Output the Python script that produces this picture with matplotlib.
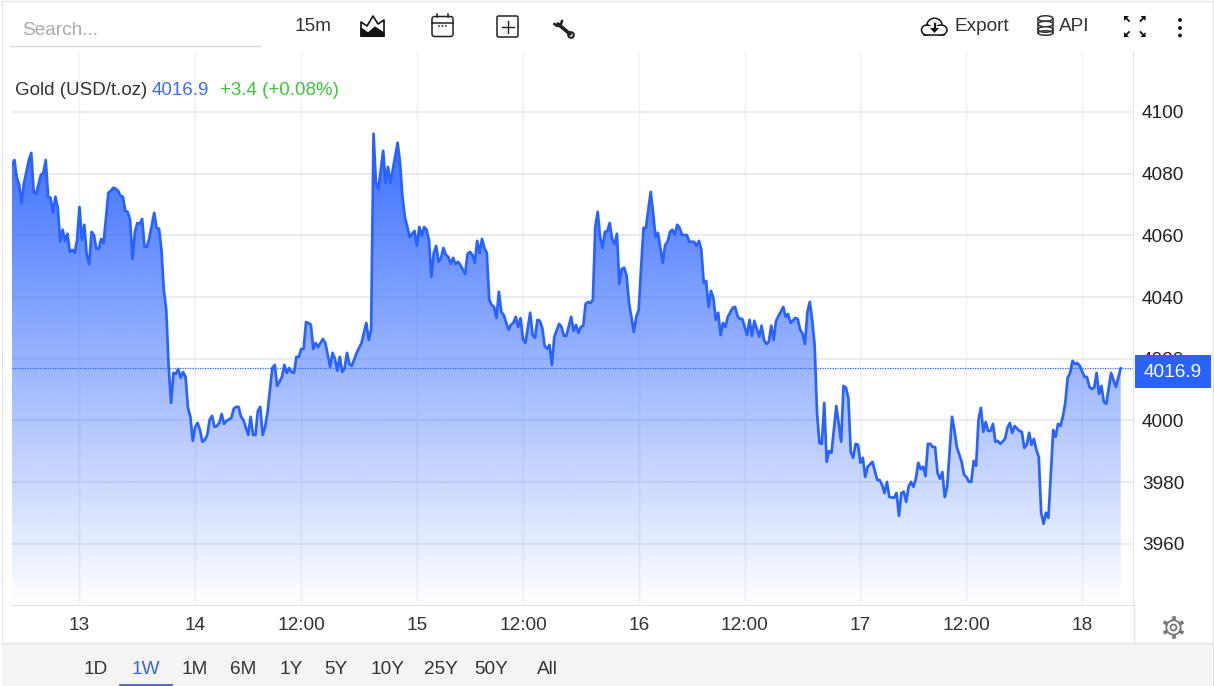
import numpy as np
import matplotlib
matplotlib.use("Agg")
import matplotlib.pyplot as plt
from matplotlib.patches import Rectangle, FancyBboxPatch, Circle, Polygon, Ellipse

plt.rcParams['font.family'] = ['Liberation Sans', 'DejaVu Sans']

# 15 minute bars counted from the left edge of the chart, and the gold price at them
bars = [0, 1, 2, 3, 4, 5, 7, 8, 9, 10, 12, 13, 14, 15, 16, 17, 18, 19, 20, 21, 22, 23, 24, 25, 26, 27, 28, 29, 30, 31,
        32, 33, 34, 35, 36, 37, 38, 40, 41, 42, 43, 44, 45, 46, 47, 48, 49, 50, 51, 52, 53, 54, 55, 56, 57, 59, 60, 61,
        62, 63, 64, 65, 66, 67, 68, 69, 70, 71, 72, 73, 74, 75, 76, 77, 78, 79, 80, 81, 82, 83, 84, 85, 86, 87, 88, 89,
        91, 92, 93, 94, 95, 96, 98, 99, 100, 101, 102, 103, 104, 105, 106, 108, 109, 110, 112, 113, 114, 115, 116, 117,
        118, 119, 120, 121, 122, 123, 124, 125, 126, 127, 129, 130, 132, 133, 134, 135, 136, 137, 138, 139, 140, 141,
        143, 145, 147, 148, 149, 150, 151, 152, 154, 155, 156, 157, 160, 161, 162, 163, 165, 167, 168, 169, 170, 171,
        172, 173, 174, 175, 176, 177, 178, 179, 180, 181, 182, 183, 184, 185, 186, 188, 189, 190, 191, 192, 193, 194,
        195, 196, 197, 198, 199, 200, 201, 202, 203, 204, 206, 207, 208, 209, 210, 211, 212, 213, 215, 216, 217, 218,
        219, 220, 221, 222, 223, 224, 225, 227, 228, 229, 230, 232, 233, 234, 235, 236, 237, 238, 239, 240, 241, 242,
        243, 244, 245, 246, 247, 248, 249, 250, 251, 252, 253, 254, 255, 256, 258, 259, 260, 262, 263, 265, 266, 267,
        268, 270, 271, 272, 273, 274, 275, 276, 277, 278, 280, 281, 283, 284, 285, 286, 287, 288, 289, 290, 291, 292,
        293, 294, 295, 296, 297, 299, 300, 301, 302, 303, 305, 306, 307, 308, 310, 311, 312, 313, 314, 315, 316, 317,
        320, 321, 322, 323, 325, 326, 327, 328, 329, 330, 331, 332, 333, 334, 335, 336, 337, 338, 339, 340, 342, 344,
        345, 346, 347, 348, 349, 350, 351, 352, 353, 354, 355, 357, 359, 360, 361, 362, 363, 364, 366, 367, 368, 369,
        370, 371, 372, 373, 374, 375, 376, 377, 378, 379, 380, 381, 382, 383, 384, 385, 386, 387, 388, 390, 391, 392,
        394, 395, 396, 397, 398, 399, 400, 401, 402, 403, 404, 405, 406, 407, 408, 409, 410, 412, 413, 414, 415, 416,
        418, 419, 420, 421, 422, 423, 424, 425, 426, 427, 428, 429, 430, 432, 433, 434, 435, 436, 437, 438, 439, 440,
        441, 442, 443, 445, 446, 447, 448, 449, 450, 451, 452, 453, 454, 456, 458, 460]

price = [4082.8, 4084.4, 4078.6, 4076.3, 4070.5, 4077.0, 4084.4, 4086.7, 4074.1, 4073.4, 4079.6, 4080.2, 4084.4, 4072.5,
         4072.1, 4067.3, 4072.5, 4068.9, 4057.9, 4061.8, 4058.2, 4060.5, 4054.6, 4055.3, 4054.3, 4058.5, 4069.2, 4058.5,
         4063.4, 4053.7, 4050.7, 4061.1, 4060.1, 4055.6, 4055.6, 4058.8, 4057.5, 4073.8, 4074.4, 4075.4, 4075.1, 4074.4,
         4072.8, 4072.5, 4067.9, 4067.6, 4065.0, 4052.4, 4061.1, 4064.0, 4063.7, 4065.3, 4056.3, 4056.3, 4059.2, 4067.3,
         4062.4, 4062.1, 4055.3, 4042.3, 4035.8, 4017.4, 4005.7, 4015.4, 4015.1, 4016.7, 4013.8, 4015.7, 4014.1, 4004.1,
         4001.2, 3993.4, 3997.9, 3999.2, 3996.9, 3993.1, 3993.7, 3995.3, 4000.2, 4001.5, 3997.9, 3998.2, 3999.2, 4002.1,
         3998.9, 3999.9, 4000.8, 4003.8, 4004.4, 4004.4, 4001.2, 4000.2, 3995.3, 4001.2, 3995.3, 3995.3, 4003.1, 4004.4,
         3995.3, 3997.9, 4002.5, 4017.0, 4018.0, 4011.2, 4014.1, 4018.0, 4015.4, 4017.0, 4015.7, 4015.4, 4020.6, 4020.6,
         4023.2, 4023.2, 4031.9, 4031.6, 4031.0, 4023.2, 4025.1, 4023.8, 4026.4, 4025.1, 4017.4, 4021.9, 4020.0, 4016.1,
         4020.6, 4015.7, 4017.0, 4021.9, 4018.3, 4017.7, 4021.9, 4025.1, 4031.6, 4026.1, 4029.4, 4092.9, 4077.0, 4075.0,
         4087.4, 4077.0, 4082.2, 4077.0, 4090.0, 4083.5, 4072.5, 4066.0, 4059.5, 4061.4, 4056.6, 4062.7, 4059.8, 4062.7,
         4061.8, 4058.5, 4046.5, 4054.3, 4056.6, 4051.4, 4052.7, 4055.9, 4053.7, 4053.0, 4050.7, 4052.7, 4050.7, 4051.4,
         4050.4, 4047.5, 4054.0, 4054.6, 4053.7, 4051.1, 4058.2, 4054.3, 4058.8, 4055.9, 4054.3, 4039.1, 4037.5, 4036.8,
         4033.2, 4041.7, 4035.2, 4034.2, 4029.4, 4031.0, 4031.6, 4033.6, 4030.3, 4033.2, 4026.4, 4025.1, 4034.9, 4027.7,
         4026.8, 4032.6, 4032.3, 4030.0, 4024.2, 4023.2, 4024.5, 4018.0, 4027.1, 4031.3, 4030.3, 4027.4, 4027.4, 4033.6,
         4029.0, 4031.0, 4028.4, 4030.3, 4030.7, 4037.8, 4038.4, 4038.1, 4039.1, 4062.7, 4067.6, 4059.5, 4055.9, 4061.1,
         4061.4, 4064.0, 4058.8, 4057.2, 4060.5, 4044.3, 4049.1, 4049.5, 4046.9, 4038.1, 4028.7, 4033.6, 4035.8, 4062.4,
         4062.4, 4074.1, 4067.3, 4059.5, 4060.8, 4051.1, 4056.9, 4057.9, 4061.1, 4061.8, 4060.1, 4063.4, 4062.4, 4060.1,
         4060.1, 4057.9, 4057.9, 4056.6, 4058.2, 4055.3, 4044.6, 4045.2, 4036.8, 4042.0, 4039.7, 4032.6, 4034.9, 4027.7,
         4031.6, 4030.3, 4033.6, 4036.5, 4036.8, 4033.9, 4032.9, 4032.9, 4027.7, 4032.6, 4027.4, 4032.3, 4027.1, 4030.7,
         4026.1, 4024.8, 4025.5, 4030.7, 4026.1, 4032.3, 4036.8, 4033.6, 4034.5, 4031.6, 4033.2, 4032.9, 4029.4, 4028.1,
         4024.8, 4035.2, 4038.4, 4032.6, 4024.5, 4002.5, 3992.7, 3992.4, 4005.7, 3986.6, 3990.1, 3989.5, 4004.7, 3993.1,
         4011.2, 4010.6, 4007.3, 3989.8, 3987.9, 3992.4, 3992.1, 3986.3, 3987.9, 3981.7, 3985.0, 3986.6, 3980.7, 3980.7,
         3979.1, 3976.5, 3980.1, 3975.2, 3974.9, 3976.5, 3969.1, 3976.5, 3976.9, 3973.6, 3978.5, 3980.1, 3978.5, 3981.1,
         3986.3, 3984.3, 3985.0, 3982.0, 3992.4, 3992.4, 3991.4, 3991.4, 3983.0, 3981.1, 3983.3, 3975.2, 3978.5, 4001.2,
         3996.9, 3991.4, 3986.6, 3982.4, 3981.7, 3980.1, 3980.1, 3986.9, 3985.3, 4000.2, 4004.1, 3996.3, 3999.5, 3996.6,
         3996.6, 3998.9, 3993.1, 3993.4, 3992.4, 3994.0, 3997.6, 3999.2, 3996.0, 3998.2, 3996.6, 3996.3, 3991.1, 3992.1,
         3996.0, 3992.1, 3994.0, 3990.5, 3988.2, 3970.1, 3966.5, 3970.1, 3968.4, 3996.9, 3994.7, 3998.9, 3998.2, 4001.2,
         4005.7, 4013.8, 4015.4, 4019.3, 4018.3, 4018.6, 4017.7, 4014.1, 4014.1, 4010.9, 4010.2, 4010.6, 4015.4, 4008.6,
         4011.2, 4006.0, 4005.4, 4015.4, 4010.9, 4016.9]

last_price = 4016.9
y_ticks = [3960, 3980, 4000, 4020, 4040, 4060, 4080, 4100]
x_tick_bars = [28, 76, 120, 168, 212, 260, 304, 352, 396, 444]
x_tick_labels = ['13', '14', '12:00', '15', '12:00', '16', '12:00', '17', '12:00', '18']
ranges = ['1D', '1W', '1M', '6M', '1Y', '5Y', '10Y', '25Y', '50Y', 'All']
range_x = [96, 146, 195, 243, 291, 336, 387, 441, 491, 547]

W, H = 1214, 686
BLUE = '#2962ff'
TEXT = '#333333'

fig = plt.figure(figsize=(W / 100, H / 100), dpi=100, facecolor='white')
ax = fig.add_axes([12 / W, 1 - 605 / H, (1133 - 12) / W, (605 - 52) / H])
ax.set_xlim(0, 465.1)
ax.set_ylim(3940.2, 4119.4)

for s in ['top', 'left']:
    ax.spines[s].set_visible(False)
ax.spines['right'].set_color('#e4e4e4')
ax.spines['bottom'].set_color('#e4e4e4')
ax.yaxis.tick_right()
ax.set_yticks(y_ticks)
ax.set_xticks(x_tick_bars)
ax.set_xticklabels(x_tick_labels)
ax.tick_params(axis='y', length=0, pad=6.5, labelsize=13.7, labelcolor='#222222')
ax.tick_params(axis='x', length=0, pad=8.5, labelsize=13.7, labelcolor=TEXT)
ax.grid(True, axis='y', color='#e6e7eb', lw=1.1)
ax.grid(True, axis='x', color='#eff1f5', lw=1.0)
ax.set_axisbelow(True)

# gradient area under the line
poly = ax.fill_between(bars, price, 3940.2, facecolor='none', edgecolor='none')
ymax = max(price)
grad = np.zeros((256, 1, 4))
grad[:, :, :3] = matplotlib.colors.to_rgb(BLUE)
grad[:, 0, 3] = np.interp(np.linspace(0, 1, 256), [0, 0.35, 0.7, 1], [0.93, 0.6, 0.28, 0.0])
im = ax.imshow(grad, aspect='auto', extent=[0, 465.1, 3940.2, ymax], origin='upper', zorder=2)
im.set_clip_path(poly.get_paths()[0], transform=ax.transData)
ax.set_xlim(0, 465.1)
ax.set_ylim(3940.2, 4119.4)

ax.plot(bars, price, color=BLUE, lw=1.95, zorder=3, solid_joinstyle='round')
ax.axhline(last_price, color=BLUE, lw=0.9, ls=(0, (1, 1)), zorder=3)

# everything around the plot lives on a pixel overlay
ui = fig.add_axes([0, 0, 1, 1], facecolor='none')
ui.set_xlim(0, W)
ui.set_ylim(H, 0)
ui.axis('off')

# frame and footer
ui.add_patch(Rectangle((1.5, 0.5), W - 3, H, fill=False, ec='#e6e6e6', lw=1))
ui.add_patch(Rectangle((2, 643), W - 4, 43, fc='#f4f4f4', ec='none'))
ui.plot([2, W - 2], [643, 643], color='#e6e6e6', lw=1)
ui.plot([1133.5, 1133.5], [605, 643], color='#e4e4e4', lw=1)
ui.plot([120, 171], [685, 685], color='#3b66d8', lw=2)
for lab, x in zip(ranges, range_x):
    ui.text(x, 669.5, lab, ha='center', va='center', fontsize=13.7,
            color='#3b66d8' if lab == '1W' else TEXT)

# price tag
ui.add_patch(Rectangle((1135, 355), 76, 33, fc=BLUE, ec='none', zorder=5))
ui.text(1172.5, 372.5, '4016.9', color='white', ha='center', va='center', fontsize=13.7, zorder=6)

# top bar
ui.text(22, 30.5, 'Search...', color='#aaaaaa', ha='left', va='center', fontsize=13.7)
ui.plot([10, 260], [45.5, 45.5], color='#d8d8d8', lw=1)
ui.text(294, 26.5, '15m', color=TEXT, ha='left', va='center', fontsize=13.7)
ui.text(954, 26.5, 'Export', color=TEXT, ha='left', va='center', fontsize=13.7)
ui.text(1059, 26.5, 'API', color=TEXT, ha='left', va='center', fontsize=13.7)

# legend line
ui.text(15, 90.5, 'Gold (USD/t.oz)', color=TEXT, ha='left', va='center', fontsize=13.5)
ui.text(152, 90.5, '4016.9', color='#3b6ee8', ha='left', va='center', fontsize=13.5)
ui.text(220, 90.5, '+3.4 (+0.08%)', color='#3cc43c', ha='left', va='center', fontsize=13.5)

ink = '#111111'
# area chart icon
ui.add_patch(Polygon([(361, 36.5), (361, 28), (368, 33), (375, 27), (384, 33), (384, 36.5)], fc=ink, ec=ink, lw=0.8))
ui.plot([361, 361, 367, 373, 378, 384, 384], [36, 22, 26, 16, 24, 20, 36], color=ink, lw=1.2)

# calendar icon
ui.add_patch(FancyBboxPatch((432, 16.5), 21, 20, boxstyle='round,pad=0,rounding_size=2.5', fill=False, ec='#222222', lw=1.1))
ui.plot([432, 453], [22.5, 22.5], color='#222222', lw=1.1)
ui.plot([437, 437], [13.5, 16.5], color='#222222', lw=1.1)
ui.plot([448, 448], [13.5, 16.5], color='#222222', lw=1.1)
for x in [439, 442.5, 446]:
    ui.add_patch(Circle((x, 26), 0.9, fc='#222222', ec='none'))

# box with plus
ui.add_patch(FancyBboxPatch((497, 16), 21, 21, boxstyle='round,pad=0,rounding_size=1.5', fill=False, ec='#222222', lw=1.1))
ui.plot([507.5, 507.5], [20.5, 32.5], color='#222222', lw=1)
ui.plot([501.5, 513.5], [26.5, 26.5], color='#222222', lw=1)

# wrench
ui.plot([558, 570], [24, 34], color='#222222', lw=2.6, solid_capstyle='round')
ui.add_patch(Circle((571, 35), 2.8, fc='white', ec='#222222', lw=1.5))
ui.plot([554.5, 557, 561, 562], [24, 26, 24, 21], color='#222222', lw=1.8)

# cloud with download arrow
ui.add_patch(Ellipse((927, 30), 11, 10, fill=False, ec=ink, lw=1.1))
ui.add_patch(Ellipse((941, 30), 12, 10, fill=False, ec=ink, lw=1.1))
ui.add_patch(Circle((934.5, 26), 7.8, fill=False, ec=ink, lw=1.1))
ui.add_patch(Rectangle((926, 26), 17, 8.5, fc='white', ec='none', zorder=3))
ui.plot([924, 944], [35, 35], color=ink, lw=1.1, zorder=3)
ui.add_patch(Polygon([(930, 28), (939, 28), (934.5, 33)], fc=ink, ec='none', zorder=4))
ui.plot([934.5, 934.5], [24, 29], color=ink, lw=1.6, zorder=4)

# database icon
for y in [18.5, 24, 29.5]:
    ui.add_patch(Ellipse((1045.5, y), 15, 5.5, fc='white', ec='#333333', lw=1.1))
ui.add_patch(Ellipse((1045.5, 33), 15, 4.5, fill=False, ec='#333333', lw=1.1))
ui.plot([1038, 1038], [18.5, 33], color='#333333', lw=1.1)
ui.plot([1053, 1053], [18.5, 33], color='#333333', lw=1.1)

# fullscreen arrows
for cx, cy, sx, sy in [(1128, 20, -1, -1), (1141.5, 20, 1, -1), (1128, 33, -1, 1), (1141.5, 33, 1, 1)]:
    ui.add_patch(Polygon([(cx + sx * 4, cy + sy * 4), (cx - sx * 1, cy + sy * 4), (cx + sx * 4, cy - sy * 1)], fc=ink, ec='none'))
    ui.plot([cx - sx * 1, cx + sx * 3], [cy - sy * 1, cy + sy * 3], color=ink, lw=1.3)

# three dots
for y in [20, 28, 35.5]:
    ui.add_patch(Circle((1180, y), 1.9, fc=ink, ec='none'))

# settings gear
gear_x, gear_y = 1173.5, 627.5
for a in np.deg2rad(np.arange(30, 360, 60)):
    ui.plot([gear_x + 6.5 * np.cos(a), gear_x + 9.5 * np.cos(a)],
            [gear_y + 6.5 * np.sin(a), gear_y + 9.5 * np.sin(a)], color='#777777', lw=2.6)
ui.add_patch(Circle((gear_x, gear_y), 7.2, fc='white', ec='#777777', lw=1.3, zorder=3))
ui.add_patch(Circle((gear_x, gear_y), 3, fc='white', ec='#777777', lw=1.3, zorder=3))

fig.savefig('out.png', dpi=100)
